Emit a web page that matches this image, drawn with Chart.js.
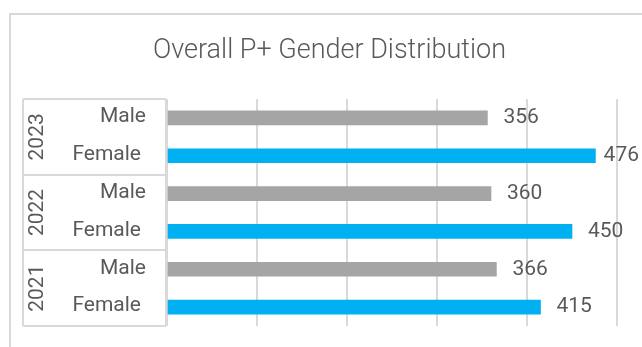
<!DOCTYPE html>
<html>
<head>
<meta charset="utf-8">
<script src="https://cdn.jsdelivr.net/npm/chart.js@4/dist/chart.umd.min.js"></script>
<style>
  html, body { margin: 0; padding: 0; background: #ffffff; }
  #wrap { position: relative; width: 642px; height: 347px; overflow: hidden; }
  #frame {
    position: absolute; left: 9px; top: 13px; width: 700px; height: 400px;
    border-top: 2px solid #d9d9d9; border-left: 2px solid #d9d9d9;
    box-sizing: border-box; pointer-events: none;
  }
  canvas { position: absolute; left: 0; top: 0; }
</style>
</head>
<body>
<div id="wrap">
  <canvas id="chart" width="642" height="347"></canvas>
  <div id="frame"></div>
</div>
<script>
// Headcount per year, split by gender (top group first)
const years = ['2023', '2022', '2021'];
const genders = ['Male', 'Female'];
const maleCounts = [356, 360, 366];
const femaleCounts = [476, 450, 415];
const axisMin = 0;
const axisMax = 500;
const axisStep = 100;

const genderColors = { Male: '#a5a5a5', Female: '#00b0f0' };
const textColor = '#595959';
const lineColor = '#d9d9d9';
const FONT = 'Roboto, "Noto Sans", sans-serif';
const LABEL_FONT = '21px ' + FONT;

// Flatten year/gender pairs into one category list
const labels = [];
const values = [];
const colors = [];
years.forEach((y, i) => {
  const byGender = { Male: maleCounts[i], Female: femaleCounts[i] };
  genders.forEach(g => {
    labels.push(g);
    values.push(byGender[g]);
    colors.push(genderColors[g]);
  });
});

// Multi-level category axis: year column, gender column, box lines
const categoryBox = {
  id: 'categoryBox',
  afterDraw(chart) {
    const { ctx, chartArea } = chart;
    const yScale = chart.scales.y;
    const boxLeft = 23;
    const boxRight = chartArea.left - 1;
    const yearX = 37.5;
    const genderRight = { Male: 146, Female: 141 };
    const per = genders.length;
    const slot = yScale.getPixelForValue(1) - yScale.getPixelForValue(0);

    ctx.save();
    ctx.strokeStyle = lineColor;
    ctx.lineWidth = 2;
    ctx.beginPath();
    for (let i = 0; i <= years.length; i++) {
      const y = Math.round(yScale.getPixelForValue(i * per) - slot / 2);
      ctx.moveTo(boxLeft, y);
      ctx.lineTo(boxRight, y);
    }
    ctx.moveTo(boxLeft, chartArea.top);
    ctx.lineTo(boxLeft, chartArea.bottom);
    ctx.moveTo(boxRight, chartArea.top);
    ctx.lineTo(boxRight, chartArea.bottom);
    ctx.stroke();

    ctx.fillStyle = textColor;
    ctx.font = LABEL_FONT;
    ctx.textBaseline = 'middle';
    labels.forEach((lab, k) => {
      ctx.textAlign = 'right';
      ctx.fillText(lab, genderRight[lab], yScale.getPixelForValue(k) - 1);
    });

    years.forEach((yr, i) => {
      const top = yScale.getPixelForValue(i * per) - slot / 2;
      const bottom = yScale.getPixelForValue(i * per + per - 1) + slot / 2;
      ctx.save();
      ctx.translate(yearX, (top + bottom) / 2);
      ctx.rotate(-Math.PI / 2);
      ctx.textAlign = 'center';
      ctx.fillText(yr, 0, 0);
      ctx.restore();
    });
    ctx.restore();
  }
};

// Value labels to the right of each bar, kept inside the canvas
const valueLabels = {
  id: 'valueLabels',
  afterDatasetsDraw(chart) {
    const { ctx } = chart;
    const meta = chart.getDatasetMeta(0);
    ctx.save();
    ctx.fillStyle = textColor;
    ctx.font = LABEL_FONT;
    ctx.textBaseline = 'middle';
    ctx.textAlign = 'left';
    meta.data.forEach((bar, k) => {
      const txt = String(values[k]);
      const w = ctx.measureText(txt).width;
      const x = Math.min(bar.x + 16, chart.width - 3 - w);
      ctx.fillText(txt, x, bar.y);
    });
    ctx.restore();
  }
};

new Chart(document.getElementById('chart'), {
  type: 'bar',
  data: {
    labels: labels,
    datasets: [{
      data: values,
      backgroundColor: colors,
      borderWidth: 0,
      barThickness: 14
    }]
  },
  options: {
    indexAxis: 'y',
    responsive: false,
    animation: false,
    devicePixelRatio: 1,
    layout: { padding: { left: 42, right: 25, top: 0, bottom: 21 } },
    plugins: {
      legend: { display: false },
      tooltip: { enabled: false },
      title: {
        display: true,
        text: 'Overall P+ Gender Distribution',
        color: textColor,
        font: { family: FONT, size: 27, weight: 300 },
        padding: { top: 35, bottom: 31.6 }
      }
    },
    scales: {
      x: {
        min: axisMin,
        max: axisMax,
        ticks: { stepSize: axisStep, display: false },
        grid: { color: lineColor, lineWidth: 2, drawTicks: false },
        border: { display: false },
        afterFit(s) { s.height = 0; }
      },
      y: {
        ticks: { display: false },
        grid: { display: false },
        border: { display: false },
        afterFit(s) { s.width = 125; }
      }
    }
  },
  plugins: [categoryBox, valueLabels]
});
</script>
</body>
</html>
